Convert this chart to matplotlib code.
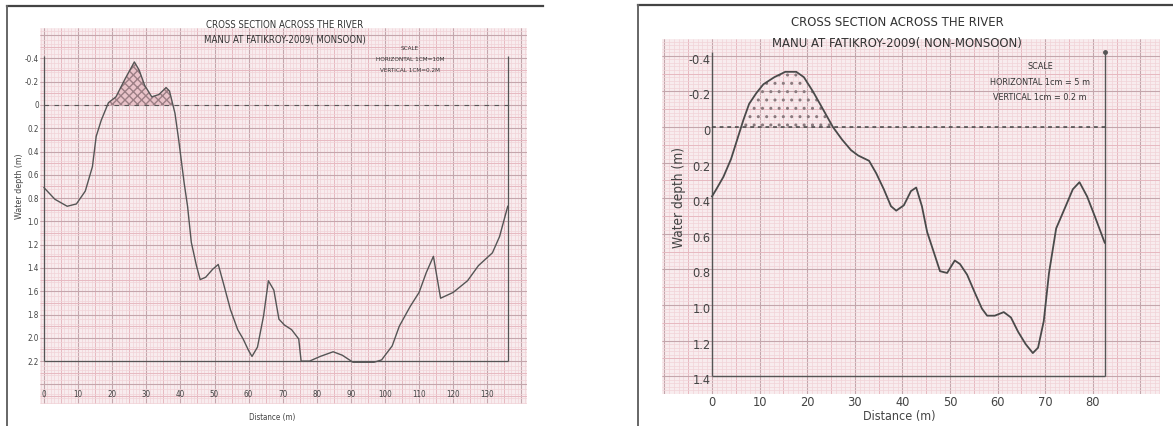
import numpy as np
import matplotlib
matplotlib.use("Agg")
import matplotlib.pyplot as plt
from matplotlib.lines import Line2D

W, H = 1173, 427

# ---------------- data ----------------
mon_dist = [0, 3.2, 6.8, 9.5, 12.1, 14.2, 15.3, 16.8, 18.9, 21.1, 23.7, 26.5, 27.9, 29.5,
            31.6, 33.7, 35.8, 36.8, 38.4, 39.5, 41.1, 42.1, 43.2, 44.7, 45.8, 47.4, 49.5,
            51.1, 52.6, 54.7, 56.8, 58.4, 60.0, 61.0, 62.6, 64.4, 65.8, 67.4, 68.9, 70.5,
            72.6, 74.7, 75.4, 77.9, 81.0, 84.8, 87.5, 90.6, 96.8, 99.0, 102.1, 104.2, 107.4,
            110.0, 112.1, 114.2, 116.3, 120.0, 124.2, 127.4, 131.5, 133.6, 136.0]
mon_depth = [0.71, 0.81, 0.87, 0.85, 0.74, 0.53, 0.27, 0.13, -0.02, -0.07, -0.22, -0.37, -0.30, -0.17,
             -0.07, -0.09, -0.15, -0.12, 0.07, 0.30, 0.67, 0.87, 1.18, 1.38, 1.50, 1.48, 1.41,
             1.37, 1.53, 1.76, 1.93, 2.01, 2.11, 2.16, 2.08, 1.81, 1.51, 1.59, 1.84, 1.89,
             1.93, 2.01, 2.20, 2.20, 2.16, 2.12, 2.15, 2.21, 2.21, 2.19, 2.07, 1.90, 1.73,
             1.61, 1.44, 1.30, 1.66, 1.61, 1.51, 1.38, 1.27, 1.13, 0.87]

non_dist = [0, 0.9, 2.4, 4.0, 5.3, 6.6, 7.8, 9.3, 10.8, 13.1, 15.4, 17.7, 19.3, 21.2, 23.1,
            25.4, 27.3, 29.2, 30.7, 33.0, 34.5, 36.1, 37.6, 38.7, 40.3, 41.8, 42.9, 44.1,
            45.2, 46.8, 47.9, 49.4, 51.0, 52.1, 53.6, 55.2, 56.7, 57.8, 59.4, 61.3, 62.8,
            64.3, 65.9, 67.4, 68.5, 69.7, 70.8, 72.3, 74.3, 75.8, 77.2, 78.8, 80.4, 82.5]
non_depth = [0.39, 0.35, 0.28, 0.18, 0.07, -0.04, -0.13, -0.19, -0.24, -0.28, -0.31, -0.31, -0.28,
             -0.20, -0.11, 0.0, 0.07, 0.13, 0.16, 0.19, 0.26, 0.35, 0.445, 0.47, 0.44, 0.36,
             0.34, 0.445, 0.59, 0.72, 0.81, 0.82, 0.75, 0.77, 0.83, 0.93, 1.02, 1.06, 1.06,
             1.04, 1.07, 1.15, 1.22, 1.27, 1.24, 1.09, 0.82, 0.57, 0.445, 0.35, 0.31, 0.39,
             0.50, 0.65]

mon_xticks = [0, 10, 20, 30, 40, 50, 60, 70, 80, 90, 100, 110, 120, 130]
mon_yticks = [-0.4, -0.2, 0.0, 0.2, 0.4, 0.6, 0.8, 1.0, 1.2, 1.4, 1.6, 1.8, 2.0, 2.2]
mon_ylabels = ['-0.4', '-0.2', '0', '0.2', '0.4', '0.6', '0.8', '1.0', '1.2', '1.4',
               '1.6', '1.8', '2.0', '2.2']
non_xticks = [0, 10, 20, 30, 40, 50, 60, 70, 80]
non_yticks = [-0.4, -0.2, 0.0, 0.2, 0.4, 0.6, 0.8, 1.0, 1.2, 1.4]
non_ylabels = ['-0.4', '-0.2', '0', '0.2', '0.4', '0.6', '0.8', '1.0', '1.2', '1.4']

mon_title = ["CROSS SECTION ACROSS THE RIVER", "MANU AT FATIKROY-2009( MONSOON)"]
non_title = ["CROSS SECTION ACROSS THE RIVER", "MANU AT FATIKROY-2009( NON-MONSOON)"]
mon_scale = ["SCALE", "HORIZONTAL 1CM=10M", "VERTICAL 1CM=0.2M"]
non_scale = ["SCALE", "HORIZONTAL 1cm = 5 m", "VERTICAL 1cm = 0.2 m"]
xlabel = "Distance (m)"
ylabel = "Water depth (m)"

# ---------------- style ----------------
FONT = ['DejaVu Sans']
ST = 'condensed'
paper = '#f8ecee'
minor_c = '#f1d3d8'
mid_c = '#e7b9c1'
major_c = '#c4a6ac'
ink = '#555555'
txt = '#444444'

fig = plt.figure(figsize=(W / 100, H / 100), dpi=100)
fig.patch.set_facecolor('white')


def fx(x):
    return x / W


def fy(y):
    return 1 - y / H


def add_ax(x0, y0, x1, y1):
    return fig.add_axes([fx(x0), fy(y1), (x1 - x0) / W, (y1 - y0) / H])


def arange_in(lo, hi, step):
    start = np.ceil(lo / step) * step
    return np.arange(start, hi + 1e-9, step)


def paper_grid(ax, xlim, ylim, xs, ys):
    ax.set_facecolor(paper)
    ax.set_xlim(*xlim)
    ax.set_ylim(ylim[1], ylim[0])
    for s in ax.spines.values():
        s.set_visible(False)
    ax.set_xticks([])
    ax.set_yticks([])
    (xmin, xmid, xmaj), (ymin, ymid, ymaj) = xs, ys
    for step, c, lw in [(xmin, minor_c, 0.5), (xmid, mid_c, 0.7), (xmaj, major_c, 0.8)]:
        ax.vlines(arange_in(xlim[0], xlim[1], step), ylim[0], ylim[1], colors=c, lw=lw, zorder=0.5)
    for step, c, lw in [(ymin, minor_c, 0.5), (ymid, mid_c, 0.7), (ymaj, major_c, 0.8)]:
        ax.hlines(arange_in(ylim[0], ylim[1], step), xlim[0], xlim[1], colors=c, lw=lw, zorder=0.5)


# ---------------- outer frames ----------------
for (x0, x1, y0) in [(7, 543, 7), (638, 1173, 6)]:
    fig.add_artist(Line2D([fx(x0), fx(x1)], [fy(y0), fy(y0)], color='#444444', lw=1.6))
    fig.add_artist(Line2D([fx(x0), fx(x0)], [fy(y0), fy(427)], color='#666666', lw=1.4))

# ---------------- left: monsoon ----------------
axL = add_ax(40, 29, 527, 405)
xlimL = ((40 - 44) / 3.41, (527 - 44) / 3.41)
ylimL = ((29 - 106) / 116.4, (405 - 106) / 116.4)
paper_grid(axL, xlimL, ylimL, (1, 5, 10), (0.04, 0.1, 0.2))
right_L = mon_dist[-1]
axL.vlines(0, -0.42, 2.2, colors=ink, lw=0.9, zorder=3)
axL.vlines(right_L, -0.42, 2.2, colors=ink, lw=0.9, zorder=3)
axL.hlines(2.2, 0, right_L, colors=ink, lw=0.9, zorder=3)
axL.hlines(0, 0, right_L, colors=ink, lw=0.8, linestyles=(0, (4, 5)), zorder=3)
d = np.array(mon_depth)
axL.fill_between(mon_dist, mon_depth, 0, where=d < 0, interpolate=True,
                 facecolor='#e9c3c9', edgecolor='#9c7f85', hatch='xxxx', lw=0, zorder=2)
axL.plot(mon_dist, mon_depth, color=ink, lw=1.0, zorder=4)
for v in mon_xticks:
    axL.text(v, 2.48, str(v), ha='center', va='center', fontsize=5.8, color=txt,
             family=FONT, stretch=ST, zorder=5)
for v, lab in zip(mon_yticks, mon_ylabels):
    axL.text(xlimL[0] - 0.3, v, lab, ha='right', va='center', fontsize=5.8, color=txt,
             family=FONT, stretch=ST, clip_on=False)
fig.text(fx(272), fy(418), xlabel, ha='center', va='center', fontsize=5.8, color=txt,
         family=FONT, stretch=ST)
fig.text(fx(19), fy(186), ylabel, ha='center', va='center', rotation=90, fontsize=6.4,
         color=txt, family=FONT, stretch=ST)
for i, t in enumerate(mon_title):
    fig.text(fx(285), fy(25 + 14 * i), t, ha='center', va='center', fontsize=6.9,
             color='#333333', family=FONT, stretch=ST)
for i, t in enumerate(mon_scale):
    fig.text(fx(410), fy(48 + 11.5 * i), t, ha='center', va='center', fontsize=4.6,
             color='#333333', family=FONT, stretch=ST)

# ---------------- right: non-monsoon ----------------
axR = add_ax(662, 40, 1160, 395)
xlimR = ((662 - 712) / 4.76, (1160 - 712) / 4.76)
ylimR = ((40 - 128) / 178.0, (395 - 128) / 178.0)
paper_grid(axR, xlimR, ylimR, (1, 5, 10), (0.02, 0.1, 0.2))
right_R = non_dist[-1]
axR.vlines(0, -0.42, 1.4, colors=ink, lw=1.0, zorder=3)
axR.vlines(right_R, -0.42, 1.4, colors=ink, lw=1.0, zorder=3)
axR.plot([right_R], [-0.42], marker='o', ms=2.5, color=ink, zorder=3)
axR.hlines(1.4, 0, right_R, colors=ink, lw=1.0, zorder=3)
axR.hlines(0, 0, right_R, colors='#444444', lw=1.1, linestyles=(0, (2.5, 2.5)), zorder=3)
d = np.array(non_depth)
axR.fill_between(non_dist, non_depth, 0, where=d < 0, interpolate=True,
                 facecolor='none', edgecolor='#8a7a7e', hatch='..', lw=0, zorder=2)
axR.plot(non_dist, non_depth, color='#4a4a4a', lw=1.3, zorder=4)
for v in non_xticks:
    axR.text(v, (403 - 128) / 178.0, str(v), ha='center', va='center', fontsize=9.2, color=txt,
             family=FONT, stretch=ST, clip_on=False)
for v, lab in zip(non_yticks, non_ylabels):
    axR.text(-0.3, v + 0.02, lab, ha='right', va='center', fontsize=9.2, color=txt,
             family=FONT, stretch=ST, clip_on=False)
fig.text(fx(899), fy(417), xlabel, ha='center', va='center', fontsize=9, color=txt,
         family=FONT, stretch=ST)
fig.text(fx(679), fy(198), ylabel, ha='center', va='center', rotation=90, fontsize=9.8,
         color=txt, family=FONT, stretch=ST)
for i, t in enumerate(non_title):
    fig.text(fx(897), fy(23 + 20 * i), t, ha='center', va='center', fontsize=9.4,
             color='#333333', family=FONT, stretch=ST)
for i, t in enumerate(non_scale):
    fig.text(fx(1040), fy(67 + 15.5 * i), t, ha='center', va='center', fontsize=6.5,
             color='#333333', family=FONT, stretch=ST)

fig.savefig('out.png', dpi=100, facecolor='white')
